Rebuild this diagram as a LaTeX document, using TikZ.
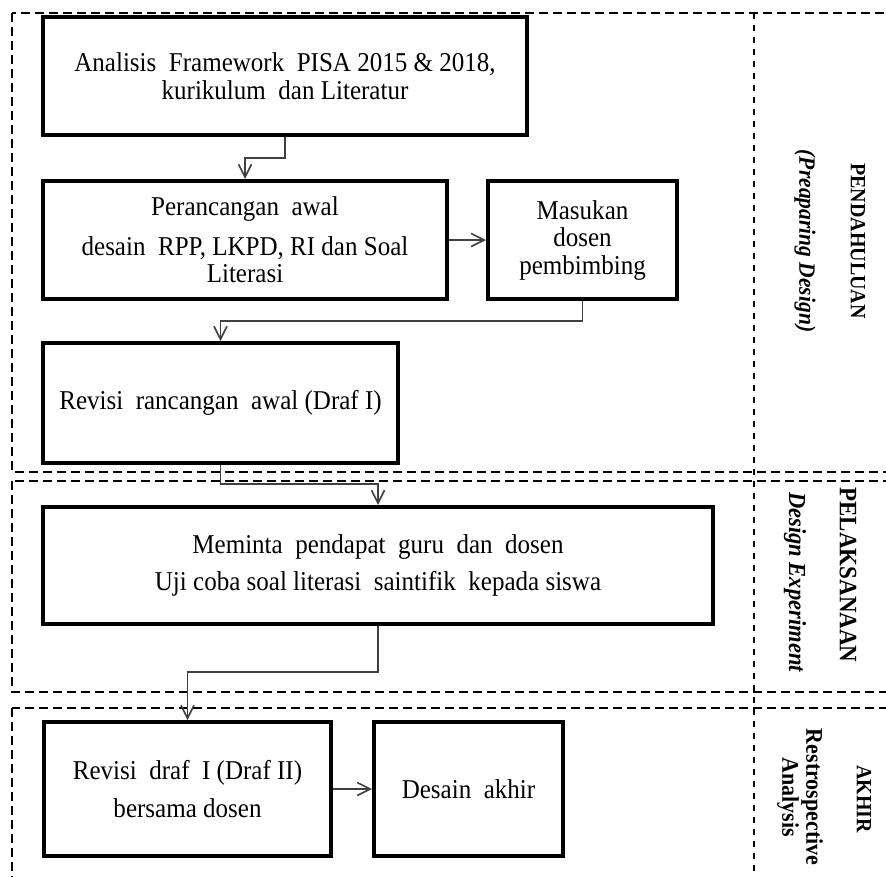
\documentclass[tikz,border=0pt]{standalone}
\usepackage{fontspec}
\setmainfont{Liberation Serif}[FakeStretch=0.92]
\usetikzlibrary{arrows.meta}
\begin{document}
\begin{tikzpicture}[x=1pt,y=-1pt,
  box/.style={draw=black, line width=4pt, inner sep=0pt, align=center,
    font=\fontsize{27.2}{27.5}\selectfont},
  frame/.style={draw=black, line width=2.8pt, dash pattern=on 9pt off 5pt},
  sepline/.style={draw=black, line width=1.8pt, dash pattern=on 6pt off 6pt},
  conn/.style={draw=black!75, line width=1.4pt,
    -{Straight Barb[length=13pt,width=13pt,line width=1.6pt]}},
  lab/.style={rotate=-90, inner sep=0pt, align=center}
]
\useasboundingbox (0,0) rectangle (886,876);
\clip (0,0) rectangle (886,876);
\fill[white] (0,0) rectangle (886,876);

% frames
\draw[frame] (12,13) rectangle (920,472);
\draw[frame] (12,481) rectangle (920,692);
\draw[frame] (12,708) rectangle (920,910);
\draw[sepline] (754,13) -- (754,880);

% boxes
\node[box, minimum width=484pt, minimum height=118pt] (b1) at (285,76)
  {Analisis\ \ Framework\ \ PISA 2015 \& 2018,\\kurikulum\ \ dan Literatur};
\node[box, minimum width=404pt, minimum height=118pt] (b2) at (245,240)
  {Perancangan\ \ awal\\[12pt]desain\ \ RPP, LKPD, RI dan Soal\\Literasi};
\node[box, minimum width=189pt, minimum height=118pt] (b3) at (582.5,240)
  {Masukan\\dosen\\pembimbing};
\node[box, minimum width=355pt, minimum height=120pt] (b4) at (220.5,403)
  {Revisi\ \ rancangan\ \ awal (Draf I)};
\node[box, minimum width=670pt, minimum height=117pt] (b5) at (378,565.5)
  {Meminta\ \ pendapat\ \ guru\ \ dan\ \ dosen\\[10pt]Uji coba soal literasi\ \ saintifik\ \ kepada siswa};
\node[box, minimum width=287pt, minimum height=134pt] (b6) at (187.5,789)
  {Revisi\ \ draf\ \ I (Draf II)\\[11pt]bersama dosen};
\node[box, minimum width=189pt, minimum height=134pt] (b7) at (468.5,789)
  {Desain\ \ akhir};

% connectors
\draw[conn] (b1.south) -- ++(0,21) -| (b2.north);
\draw[conn] (b2.east) -- (b3.west);
\draw[conn] (b3.south) -- ++(0,20) -| (b4.north);
\draw[conn] (b4.south) -- ++(0,19) -| (b5.north);
\draw[conn] (b5.south) -- ++(0,46) -| (b6.north);
\draw[conn] (b6.east) -- (b7.west);

% side labels
\node[lab, font=\bfseries\fontsize{21.7}{23}\selectfont] (l1) at (858,241) {PENDAHULUAN};
\node[lab, font=\bfseries\itshape\fontsize{23.4}{25}\selectfont] (l2) at (805,241) {(Preaparing Design)};
\node[lab, font=\bfseries\fontsize{25}{27}\selectfont] (l3) at (848,575) {PELAKSANAAN};
\node[lab, font=\bfseries\itshape\fontsize{24.5}{26}\selectfont] (l4) at (795,582) {Design Experiment};
\node[lab, font=\bfseries\fontsize{21.7}{23}\selectfont] (l5) at (864,799) {AKHIR};
\node[lab, font=\bfseries\fontsize{23.9}{24}\selectfont] (l6) at (800,797) {Restrospective\\Analysis};
\end{tikzpicture}
\end{document}
